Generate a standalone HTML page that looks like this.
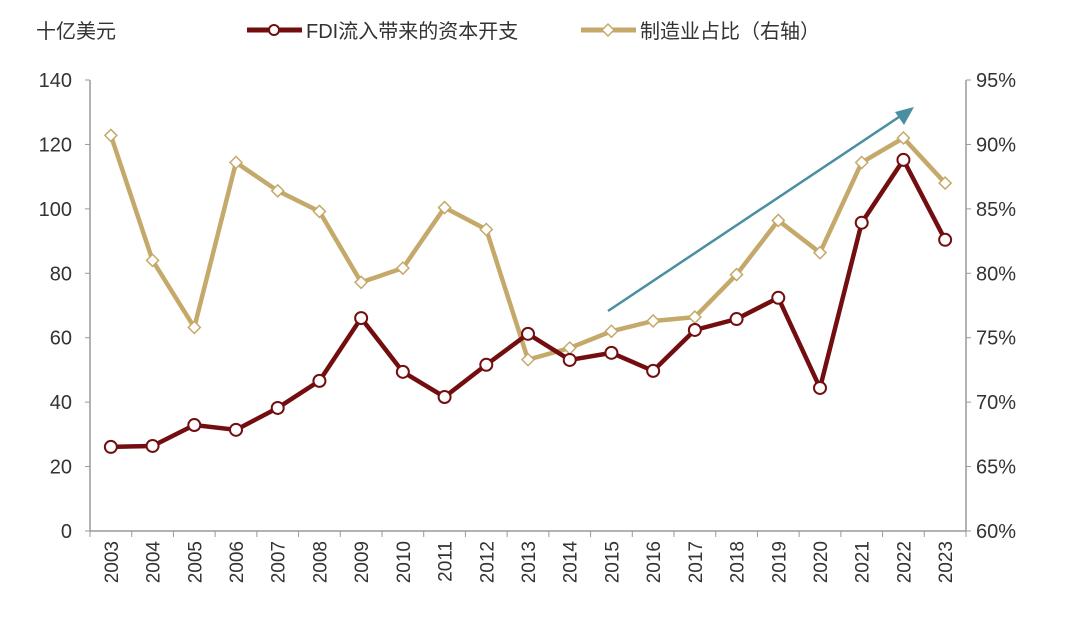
<!DOCTYPE html>
<html><head><meta charset="utf-8"><style>
body{margin:0;background:#fff;}
svg text{font-family:"Liberation Sans","Noto Sans CJK SC",sans-serif;fill:#333;}
</style></head><body>
<svg id="chart" width="1080" height="614" xmlns="http://www.w3.org/2000/svg">
<text x="36" y="38" font-size="20">十亿美元</text>
<g>
<g>
<line x1="247" y1="30" x2="302" y2="30" stroke="#730e10" stroke-width="5"/>
<circle cx="274" cy="30" r="5" fill="#fff" stroke="#730e10" stroke-width="2"/>
<text x="306" y="38" font-size="20">FDI流入带来的资本开支</text></g>
<g>
<line x1="581" y1="30" x2="636" y2="30" stroke="#c5a96b" stroke-width="5"/>
<path d="M608 24 L614 30 L608 36 L602 30 Z" fill="#fff" stroke="#c5a96b" stroke-width="1.5"/>
<text x="640" y="38" font-size="20">制造业占比（右轴）</text></g>
</g>
<g id="axes"></g>
<g id="marks"></g>
</svg>
<script>
const years=["2003","2004","2005","2006","2007","2008","2009","2010","2011","2012","2013","2014","2015","2016","2017","2018","2019","2020","2021","2022","2023"];
const fdiCapex=[26.1,26.4,32.9,31.4,38.2,46.6,66.1,49.4,41.6,51.6,61.2,53.1,55.3,49.7,62.4,65.8,72.4,44.4,95.7,115.2,90.4];
const mfgShare=[90.7,81.0,75.8,88.6,86.4,84.8,79.3,80.4,85.1,83.4,73.3,74.2,75.5,76.3,76.6,79.9,84.1,81.6,88.6,90.5,87.0];
const leftTicks=[0,20,40,60,80,100,120,140];
const rightTicks=[60,65,70,75,80,85,90,95];
const NS="http://www.w3.org/2000/svg";
const X0=90,X1=966,Y0=531,Y1=80;
const step=(X1-X0)/years.length;
const xs=i=>X0+step*(i+0.5);
const yL=v=>Y0-(v-0)/140*(Y0-Y1);
const yR=v=>Y0-(v-60)/35*(Y0-Y1);
function mk(tag,attrs,parent){const e=document.createElementNS(NS,tag);for(const k in attrs)e.setAttribute(k,attrs[k]);parent.appendChild(e);return e;}
const axes=document.getElementById('axes'),marks=document.getElementById('marks');
let a=mk('line',{x1:X0,y1:Y1,x2:X0,y2:Y0,stroke:'#999','stroke-width':1.5},axes);

a=mk('line',{x1:X1,y1:Y1,x2:X1,y2:Y0,stroke:'#999','stroke-width':1.5},axes);

a=mk('line',{x1:X0,y1:Y0,x2:X1,y2:Y0,stroke:'#999','stroke-width':1.5},axes);

leftTicks.forEach(v=>{mk('line',{x1:X0-5,x2:X0,y1:yL(v),y2:yL(v),stroke:'#999'},axes);
const t=mk('text',{x:X0-18,y:yL(v)+7,'font-size':20,'text-anchor':'end'},axes);t.textContent=v;
});
rightTicks.forEach(v=>{mk('line',{x1:X1,x2:X1+5,y1:yR(v),y2:yR(v),stroke:'#999'},axes);
const t=mk('text',{x:X1+10,y:yR(v)+7,'font-size':20},axes);t.textContent=v+'%';
});
years.forEach((y,i)=>{const bx=X0+step*i;mk('line',{x1:bx,x2:bx,y1:Y0,y2:Y0+6,stroke:'#999'},axes);
const t=mk('text',{x:0,y:0,'font-size':19,'text-anchor':'end',transform:`translate(${xs(i)+7},${Y0+10}) rotate(-90)`},axes);t.textContent=y;
});
mk('line',{x1:X1,x2:X1,y1:Y0,y2:Y0+6,stroke:'#999'},axes);
const ar=mk('line',{x1:608,y1:311,x2:902,y2:115,stroke:'#4a8fa0','stroke-width':2.5},marks);

const ah=mk('path',{d:'M914 107 L895 112 L904 125 Z',fill:'#4a8fa0'},marks);

let p=mk('polyline',{points:mfgShare.map((v,i)=>xs(i)+','+yR(v)).join(' '),fill:'none',stroke:'#c5a96b','stroke-width':4.5},marks);

mfgShare.forEach((v,i)=>{const x=xs(i),y=yR(v);
const m=mk('path',{d:`M${x} ${y-6} L${x+6} ${y} L${x} ${y+6} L${x-6} ${y} Z`,fill:'#fff',stroke:'#c5a96b','stroke-width':1.5},marks);
});
p=mk('polyline',{points:fdiCapex.map((v,i)=>xs(i)+','+yL(v)).join(' '),fill:'none',stroke:'#730e10','stroke-width':4.5},marks);

fdiCapex.forEach((v,i)=>{
const c=mk('circle',{cx:xs(i),cy:yL(v),r:6,fill:'#fff',stroke:'#730e10','stroke-width':2},marks);
});
</script>
</body></html>
